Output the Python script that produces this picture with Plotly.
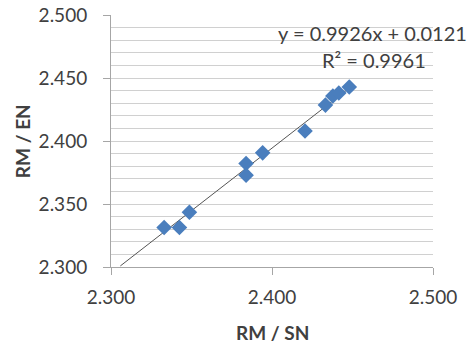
import plotly.graph_objects as go

# Ratio measurements
rm_sn = [2.3330, 2.3425, 2.3487, 2.3839, 2.3839, 2.3942, 2.4205, 2.4332, 2.4378, 2.4415, 2.4480]
rm_en = [2.3313, 2.3313, 2.3435, 2.3822, 2.3729, 2.3906, 2.4079, 2.4285, 2.4357, 2.4381, 2.4428]

# Linear trendline reported on the chart
slope = 0.9926
intercept = 0.0121
r_squared = 0.9961
trend_x = [2.3058, 2.4480]
trend_y = [slope * v + intercept for v in trend_x]

tick_vals = [2.300, 2.350, 2.400, 2.450, 2.500]
x_tick_vals = [2.300, 2.400, 2.500]

font_family = "Lato, 'Open Sans', sans-serif"
text_color = "#404040"
axis_color = "#a6a6a6"
grid_color = "#d0d0d0"

fig = go.Figure()

fig.add_trace(go.Scatter(
    x=trend_x, y=trend_y, mode="lines",
    line=dict(color="#555555", width=1),
    showlegend=False, hoverinfo="skip",
))

fig.add_trace(go.Scatter(
    x=rm_sn, y=rm_en, mode="markers",
    marker=dict(symbol="diamond", size=12, color="#4a7ebd", line=dict(width=0)),
    showlegend=False,
))

# Trendline equation and fit quality
fig.add_annotation(
    x=1.112, y=0.9285, xref="paper", yref="paper", xanchor="right", yanchor="middle",
    text=f"y = {slope:.4f}x + {intercept:.4f}", showarrow=False,
    font=dict(family=font_family, size=20, color=text_color),
)
fig.add_annotation(
    x=0.985, y=0.8212, xref="paper", yref="paper", xanchor="right", yanchor="middle",
    text=f"R² = {r_squared:.4f}", showarrow=False,
    font=dict(family=font_family, size=20, color=text_color),
)

# Axis titles
fig.add_annotation(
    x=0.5, y=-0.258, xref="paper", yref="paper", xanchor="center", yanchor="middle",
    text="<b>RM / SN</b>", showarrow=False,
    font=dict(family=font_family, size=19, color=text_color),
)
fig.add_annotation(
    x=-0.276, y=0.5, xref="paper", yref="paper", xanchor="center", yanchor="middle",
    text="<b>RM / EN</b>", showarrow=False, textangle=-90,
    font=dict(family=font_family, size=19, color=text_color),
)

fig.update_layout(
    width=470, height=345,
    margin=dict(l=111, r=37, t=15, b=78, autoexpand=False),
    paper_bgcolor="white", plot_bgcolor="white",
    font=dict(family=font_family, size=19, color=text_color),
)

fig.update_xaxes(
    range=[2.300, 2.500], tickvals=x_tick_vals, tickformat=".3f",
    showgrid=False, zeroline=False, automargin=False,
    showline=True, linecolor=axis_color, linewidth=1,
    ticks="outside", ticklen=7, tickcolor=axis_color, ticklabelstandoff=6,
)

fig.update_yaxes(
    range=[2.300, 2.500], tickvals=tick_vals, tickformat=".3f",
    showgrid=True, gridcolor=grid_color, gridwidth=1, zeroline=False, automargin=False,
    showline=True, linecolor=axis_color, linewidth=1,
    ticks="outside", ticklen=7, tickcolor=axis_color, ticklabelstandoff=12,
    minor=dict(dtick=0.01, showgrid=True, gridcolor=grid_color, gridwidth=1, ticks=""),
)

fig.write_html("out.html")
